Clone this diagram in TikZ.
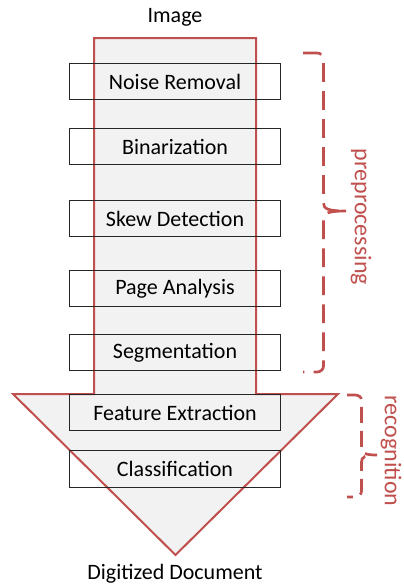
\documentclass[tikz,border=0pt]{standalone}
\usepackage{fontspec}
\setmainfont{Carlito}
\definecolor{accred}{HTML}{C0504D}
\definecolor{pipefill}{HTML}{F2F2F2}

\begin{document}
\begin{tikzpicture}[x=0.75pt,y=-0.75pt]
				\tikzstyle{every node}=[font=\fontsize{16.5}{19}\selectfont]
				\tikzstyle{stage}=[draw=black!85,line width=0.75pt,minimum width=158.25pt,
				minimum height=27.5pt,inner sep=0pt]
				\tikzstyle{pipe}=[draw=accred,fill=pipefill,line width=1.5pt,line join=miter]
				\tikzstyle{brace}=[draw=accred,line width=2pt,dash pattern=on 14pt off 7pt]
				\tikzstyle{phase}=[text=accred,rotate=-90,inner sep=0pt,font=\fontsize{18}{21}\selectfont]
				\useasboundingbox (0,0) rectangle (404,587);
				% the big arrow
				\path[pipe] (94,38) -- (256,38) -- (256,394) -- (338,394) -- (175.5,555)
				-- (13,394) -- (94,394) -- cycle;
				\node (image) at (175,17) {Image};
				\node (digi) at (175,574) {Digitized Document};
				% steps
				\node[stage] (noise) at (175,81.5) {Noise Removal};
				\node[stage] (bin) at (175,146.5) {Binarization};
				\node[stage] (skew) at (175,218.5) {Skew Detection};
				\node[stage] (page) at (175,288.5) {Page Analysis};
				\node[stage] (seg) at (175,352.5) {Segmentation};
				\node[stage] (feat) at (175,412.5) {Feature Extraction};
				\node[stage] (cls) at (175,469) {Classification};
				% braces
				\draw[brace] (303,53) -- (317,53) to[out=0,in=90] (323.5,59) -- (323.5,203)
				.. controls (323.5,209) and (328,211) .. (347,211)
				.. controls (328,211) and (323.5,213) .. (323.5,219) -- (323.5,366)
				to[out=-90,in=0] (317,372) -- (303,372);
				\draw[brace,dash pattern=on 12pt off 6pt] (347,395) -- (355,395) to[out=0,in=90] (361.5,400)
				-- (361.5,448) .. controls (361.5,453) and (365,455) .. (377,455)
				.. controls (365,455) and (361.5,457) .. (361.5,462) -- (361.5,491)
				to[out=-90,in=0] (355,497) -- (347,497);
				\node[phase] (pre) at (361,217) {preprocessing};
				\node[phase] (rec) at (391,451) {recognition};
\end{tikzpicture}
\end{document}
